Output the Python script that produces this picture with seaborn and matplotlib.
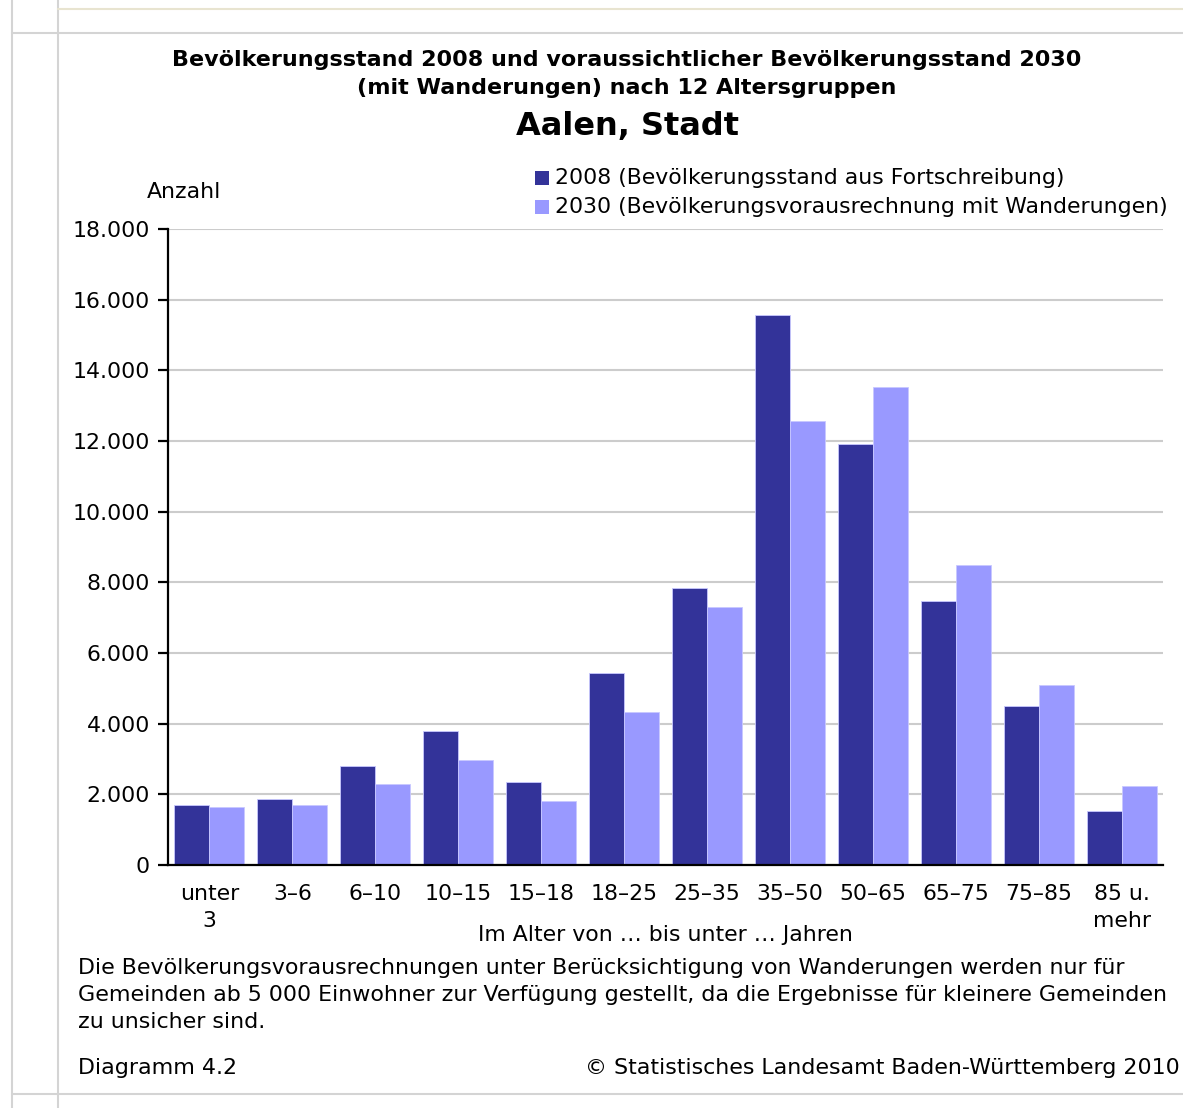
import matplotlib
matplotlib.use("Agg")
import matplotlib.pyplot as plt
from matplotlib.lines import Line2D
from matplotlib.patches import Rectangle
from matplotlib.ticker import FuncFormatter, FixedLocator
import seaborn as sns
import pandas as pd
import numpy as np

# Altersgruppen und Bevölkerungszahlen
age_groups = ["unter\n3", "3–6", "6–10", "10–15", "15–18", "18–25",
              "25–35", "35–50", "50–65", "65–75", "75–85", "85 u.\nmehr"]
pop_2008 = [1700, 1870, 2800, 3790, 2350, 5430, 7840, 15570, 11920, 7470, 4500, 1530]
pop_2030 = [1640, 1700, 2290, 2970, 1810, 4330, 7300, 12570, 13530, 8490, 5095, 2240]
series_labels = ["2008 (Bevölkerungsstand aus Fortschreibung)",
                 "2030 (Bevölkerungsvorausrechnung mit Wanderungen)"]
y_ticks = [0, 2000, 4000, 6000, 8000, 10000, 12000, 14000, 16000, 18000]

dark = "#333399"
light = "#9999ff"

df = pd.DataFrame({
    "Altersgruppe": age_groups * 2,
    "Anzahl": pop_2008 + pop_2030,
    "Reihe": [series_labels[0]] * len(age_groups) + [series_labels[1]] * len(age_groups),
})

sns.set_theme(style="white")
plt.rcParams["font.family"] = ["DejaVu Sans"]
plt.rcParams["text.color"] = "black"
plt.rcParams["xtick.color"] = "black"
plt.rcParams["ytick.color"] = "black"

FS = 15.8
fig = plt.figure(figsize=(11.83, 11.08), dpi=100)
W, H = 1183, 1108


def fx(px):
    return px / W


def fy(py):
    return 1 - py / H


ax = fig.add_axes([fx(168), fy(865), (1163 - 168) / W, (865 - 229) / H])

sns.barplot(data=df, x="Altersgruppe", y="Anzahl", hue="Reihe",
            hue_order=series_labels, palette=[dark, light],
            width=0.845, edgecolor="#c8c8ff", linewidth=0.6,
            ax=ax, legend=False, saturation=1)

ax.set_xlim(-0.5, len(age_groups) - 0.5)
ax.set_ylim(0, 18000)
ax.yaxis.set_major_locator(FixedLocator(y_ticks))
ax.yaxis.set_major_formatter(FuncFormatter(lambda v, p: f"{int(v):,}".replace(",", ".")))
ax.grid(axis="y", color="#cccccc", linewidth=1.5)
ax.set_axisbelow(True)

for s in ["top", "right"]:
    ax.spines[s].set_visible(False)
for s in ["left", "bottom"]:
    ax.spines[s].set_color("black")
    ax.spines[s].set_linewidth(1.6)

# category labels centred, tick marks on the group boundaries
ax.set_xticks(np.arange(len(age_groups)))
ax.set_xticklabels(age_groups, fontsize=FS, linespacing=1.4)
ax.tick_params(axis="x", which="major", length=0, pad=14)
ax.set_xticks(np.arange(len(age_groups) + 1) - 0.5, minor=True)
ax.tick_params(axis="x", which="minor", length=7, width=1.6, color="black", direction="out")
ax.tick_params(axis="y", which="major", length=7, width=1.6, color="black",
               direction="out", labelsize=FS, pad=6, left=True)

ax.set_xlabel("")
ax.set_ylabel("")

# titles
fig.text(fx(627), fy(60), "Bevölkerungsstand 2008 und voraussichtlicher Bevölkerungsstand 2030",
         ha="center", va="center", fontsize=16, fontweight="bold")
fig.text(fx(627), fy(88), "(mit Wanderungen) nach 12 Altersgruppen",
         ha="center", va="center", fontsize=16, fontweight="bold")
fig.text(fx(627), fy(126), "Aalen, Stadt",
         ha="center", va="center", fontsize=23, fontweight="bold")
fig.text(fx(147), fy(192), "Anzahl", ha="left", va="center", fontsize=FS)

# legend: coloured squares with labels
for color, label, yc in zip([dark, light], series_labels, [178, 207]):
    fig.add_artist(Rectangle((fx(535), fy(yc + 7)), 14 / W, 14 / H,
                             facecolor=color, edgecolor="none", transform=fig.transFigure))
    fig.text(fx(555), fy(yc), label, ha="left", va="center", fontsize=FS)

fig.text(fx(665), fy(935), "Im Alter von … bis unter … Jahren",
         ha="center", va="center", fontsize=FS)

# footnote
note_lines = ["Die Bevölkerungsvorausrechnungen unter Berücksichtigung von Wanderungen werden nur für",
              "Gemeinden ab 5 000 Einwohner zur Verfügung gestellt, da die Ergebnisse für kleinere Gemeinden",
              "zu unsicher sind."]
for line, yc in zip(note_lines, [968, 995, 1022]):
    fig.text(fx(78), fy(yc), line, ha="left", va="center", fontsize=15.9)
fig.text(fx(78), fy(1068), "Diagramm 4.2", ha="left", va="center", fontsize=15.9)
fig.text(fx(1180), fy(1068), "© Statistisches Landesamt Baden-Württemberg 2010",
         ha="right", va="center", fontsize=15.9)

# page frame
frame = "#d4d4d4"
fig.add_artist(Line2D([fx(12), fx(12)], [0, 1], color=frame, lw=1.5, transform=fig.transFigure))
fig.add_artist(Line2D([fx(58), fx(58)], [0, 1], color=frame, lw=1.5, transform=fig.transFigure))
fig.add_artist(Line2D([fx(12), 1], [fy(33), fy(33)], color=frame, lw=1.5, transform=fig.transFigure))
fig.add_artist(Line2D([fx(12), 1], [fy(1094), fy(1094)], color=frame, lw=1.5, transform=fig.transFigure))
fig.add_artist(Line2D([fx(58), 1], [fy(9), fy(9)], color="#e8e4d0", lw=1.5, transform=fig.transFigure))

fig.savefig("out.png", dpi=100)
